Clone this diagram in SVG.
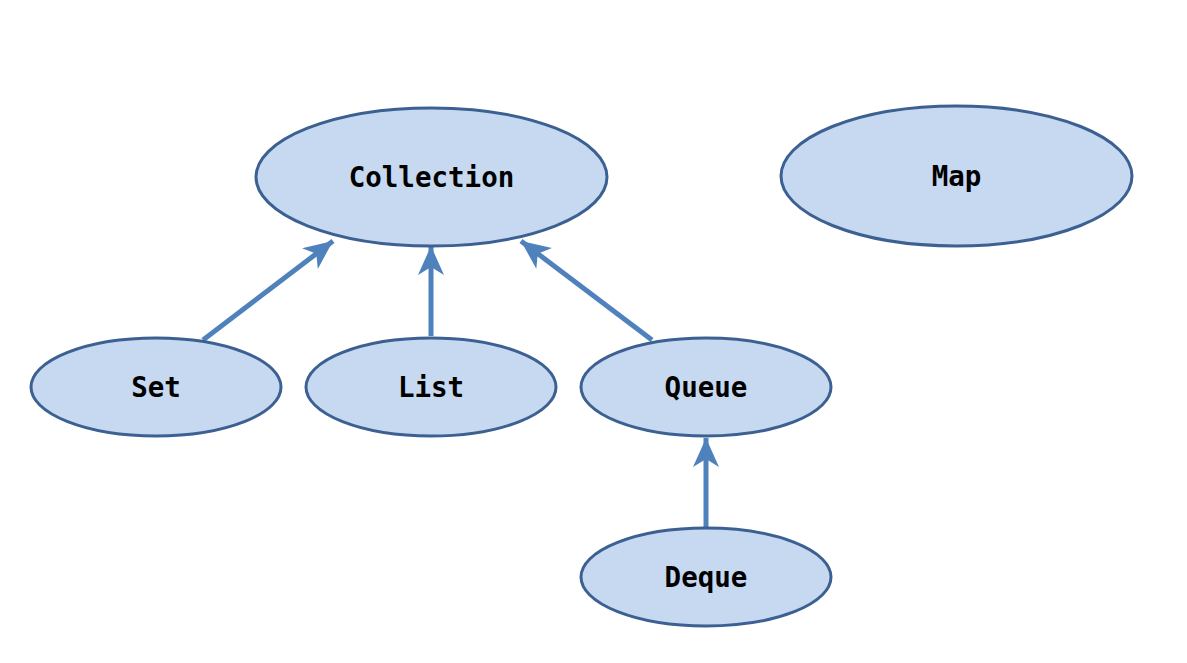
<svg xmlns="http://www.w3.org/2000/svg" width="1187" height="663" viewBox="0 0 1187 663">
<style>
.node ellipse{fill:#c6d9f1;stroke:#3b6091;stroke-width:3}
.node text{font-family:"DejaVu Sans Mono","Liberation Mono",monospace;font-weight:bold;font-size:27.5px;fill:#000;text-anchor:middle}
.edge{stroke:#4f81bd;stroke-width:5;fill:none;marker-end:url(#ah)}
</style>
<defs>
<marker id="ah" markerUnits="userSpaceOnUse" viewBox="-30 -15 32 30" refX="0" refY="0" markerWidth="32" markerHeight="30" orient="auto">
<path d="M0,0 L-29,-13 L-21,0 L-29,13 Z" fill="#4f81bd"/>
</marker>
</defs>
<rect width="1187" height="663" fill="#fff"/>
<g id="connectors">
<line class="edge" x1="203" y1="340" x2="333" y2="241"/>
<line class="edge" x1="431" y1="336" x2="431" y2="246"/>
<line class="edge" x1="652" y1="340" x2="521" y2="241"/>
<line class="edge" x1="706" y1="527" x2="706" y2="438"/>
</g>
<g id="collection" class="node"><ellipse cx="431.5" cy="177" rx="175.5" ry="69"/><text x="431.5" y="187">Collection</text></g>
<g id="map" class="node"><ellipse cx="956.5" cy="176" rx="175.5" ry="70"/><text x="956.5" y="186">Map</text></g>
<g id="set" class="node"><ellipse cx="156" cy="387" rx="125" ry="49"/><text x="156" y="397">Set</text></g>
<g id="list" class="node"><ellipse cx="431" cy="387" rx="125" ry="49"/><text x="431" y="397">List</text></g>
<g id="queue" class="node"><ellipse cx="706" cy="387" rx="125" ry="49"/><text x="706" y="397">Queue</text></g>
<g id="deque" class="node"><ellipse cx="706" cy="577" rx="125" ry="49"/><text x="706" y="587">Deque</text></g>
</svg>
